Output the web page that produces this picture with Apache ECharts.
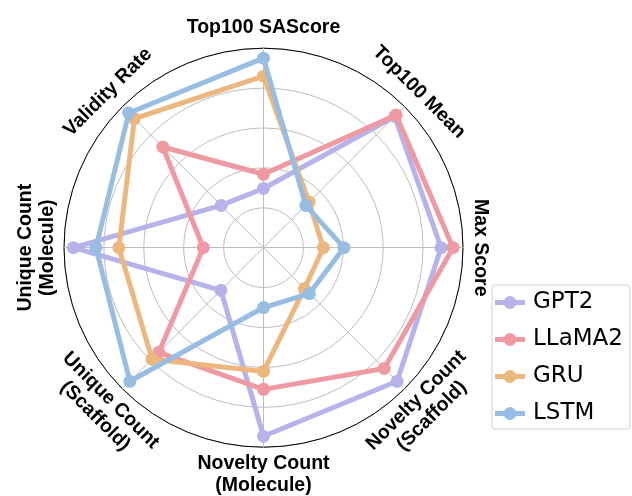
<!DOCTYPE html>
<html>
<head>
<meta charset="utf-8">
<script src="https://cdn.jsdelivr.net/npm/echarts@6/dist/echarts.min.js"></script>
<style>
  html, body { margin: 0; padding: 0; background: #fff; }
  #chart { width: 632px; height: 496px; }
</style>
</head>
<body>
<div id="chart"></div>
<script>
// Metric axes, listed counter-clockwise starting from the top
const metrics = [
  'Top100 SAScore',
  'Validity Rate',
  'Unique Count\n(Molecule)',
  'Unique Count\n(Scaffold)',
  'Novelty Count\n(Molecule)',
  'Novelty Count\n(Scaffold)',
  'Max Score',
  'Top100 Mean'
];

// Normalised scores (0..1), same order as metrics
const gpt2   = [0.297, 0.300, 0.953, 0.302, 0.945, 0.947, 0.890, 0.930];
const llama2 = [0.368, 0.714, 0.302, 0.742, 0.710, 0.856, 0.950, 0.940];
const gru    = [0.860, 0.915, 0.725, 0.790, 0.620, 0.290, 0.300, 0.323];
const lstm   = [0.950, 0.955, 0.840, 0.947, 0.300, 0.325, 0.403, 0.300];

const modelNames = ['GPT2', 'LLaMA2', 'GRU', 'LSTM'];
const modelValues = [gpt2, llama2, gru, lstm];
const modelColors = ['#b5b3ea', '#ef9aa2', '#ebb77f', '#97bde3'];

const CX = 263.5, CY = 247.7, R = 199.5;

const chart = echarts.init(document.getElementById('chart'), null, { renderer: 'canvas' });

const indicators = metrics.map(m => ({ name: m, min: 0, max: 1 }));

// Rotated axis titles placed just outside the outer ring
const n = metrics.length;
const labelGraphics = metrics.map((m, i) => {
  const deg = 90 + i * 360 / n;
  const th = deg * Math.PI / 180;
  const norm = ((deg % 360) + 360) % 360;
  const rotDeg = (norm <= 180) ? norm - 90 : norm + 90;
  const twoLine = m.indexOf('\n') >= 0;
  const d = twoLine ? 227 : (norm === 0 ? 216.5 : 220);
  return {
    type: 'text',
    x: CX + d * Math.cos(th),
    y: CY - d * Math.sin(th),
    rotation: rotDeg * Math.PI / 180,
    style: {
      text: m,
      fill: '#000',
      font: 'bold 19.5px "Liberation Sans", Arial, sans-serif',
      align: 'center',
      verticalAlign: 'middle',
      lineHeight: 22
    },
    z: 10
  };
});

const legendIcon = 'path://M0,3.5L30,3.5L30,8.5L0,8.5Z M8.5,6a6.5,6.5 0 1,1 13,0a6.5,6.5 0 1,1 -13,0Z';

const option = {
  backgroundColor: '#fff',
  animation: false,
  legend: {
    orient: 'vertical',
    left: 492,
    top: 285,
    padding: [4, 7, 2, 3],
    itemGap: 10,
    itemWidth: 30,
    itemHeight: 13,
    borderColor: '#d0d0d0',
    borderWidth: 1,
    borderRadius: 3,
    icon: legendIcon,
    data: modelNames,
    textStyle: {
      fontFamily: '"DejaVu Sans", sans-serif',
      fontSize: 23,
      color: '#000',
      lineHeight: 27,
      padding: [0, 0, 0, 3]
    }
  },
  radar: [
    {
      center: [CX, CY],
      radius: R,
      shape: 'circle',
      startAngle: 90,
      splitNumber: 5,
      indicator: indicators,
      axisName: { show: false },
      splitArea: { show: false },
      splitLine: { lineStyle: { color: '#bdbdbd', width: 1 } },
      axisLine: { lineStyle: { color: '#bdbdbd', width: 1 } },
      axisTick: { show: false },
      axisLabel: { show: false }
    },
    {
      center: [CX, CY],
      radius: R,
      shape: 'circle',
      startAngle: 90,
      splitNumber: 1,
      indicator: indicators,
      axisName: { show: false },
      splitArea: { show: false },
      splitLine: { lineStyle: { color: '#000', width: 1 } },
      axisLine: { show: false },
      axisTick: { show: false },
      axisLabel: { show: false }
    }
  ],
  graphic: labelGraphics,
  series: modelNames.map((name, k) => ({
    type: 'radar',
    name: name,
    radarIndex: 0,
    symbol: 'circle',
    symbolSize: 13,
    z: 2 + k,
    lineStyle: { color: modelColors[k], width: 5 },
    itemStyle: { color: modelColors[k] },
    data: [{
      name: name,
      value: modelValues[k],
      lineStyle: { color: modelColors[k], width: 5 },
      itemStyle: { color: modelColors[k] }
    }]
  }))
};

chart.setOption(option);
</script>
</body>
</html>
